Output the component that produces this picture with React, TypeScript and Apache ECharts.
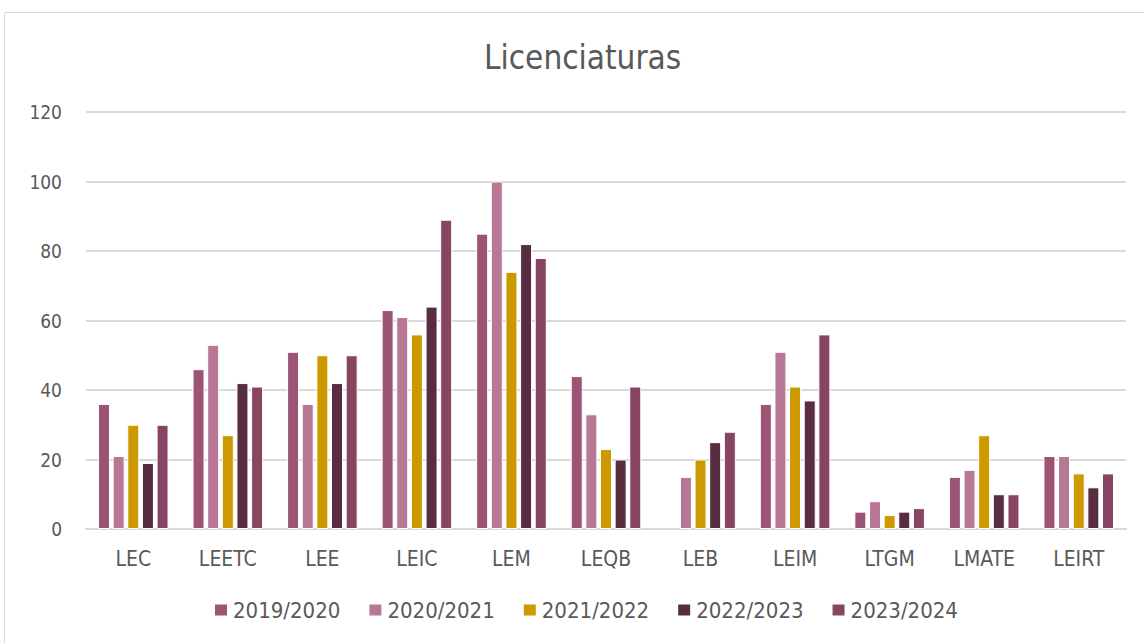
import React, { useEffect, useRef } from "react";
import * as echarts from "echarts";

const categories = ["LEC", "LEETC", "LEE", "LEIC", "LEM", "LEQB", "LEB", "LEIM", "LTGM", "LMATE", "LEIRT"];
const seriesNames = ["2019/2020", "2020/2021", "2021/2022", "2022/2023", "2023/2024"];
const s2019 = [36, 46, 51, 63, 85, 44, null, 36, 5, 15, 21];
const s2020 = [21, 53, 36, 61, 100, 33, 15, 51, 8, 17, 21];
const s2021 = [30, 27, 50, 56, 74, 23, 20, 41, 4, 27, 16];
const s2022 = [19, 42, 42, 64, 82, 20, 25, 37, 5, 10, 12];
const s2023 = [30, 41, 50, 89, 78, 41, 28, 56, 6, 10, 16];
const seriesData = [s2019, s2020, s2021, s2022, s2023];
const colors = ["#9C5374", "#B77795", "#CC9900", "#582D42", "#874562"];

const FONT = "'Liberation Sans Narrow', 'DejaVu Sans Condensed', 'Liberation Sans', sans-serif";

export default function App() {
  const ref = useRef<HTMLDivElement>(null);
  useEffect(() => {
    if (!ref.current) return;
    const chart = echarts.init(ref.current, undefined, { renderer: "svg" });
    chart.setOption({
      animation: false,
      backgroundColor: "#ffffff",
      textStyle: { fontFamily: FONT },
      title: {
        text: "Licenciaturas",
        left: 479,
        top: 36,
        textStyle: { fontFamily: FONT, fontSize: 33, fontWeight: "normal", color: "#595959" },
      },
      graphic: [
        {
          type: "rect",
          shape: { x: 4.5, y: 12.5, width: 1200, height: 700 },
          style: { fill: "none", stroke: "#d9d9d9", lineWidth: 1 },
          silent: true,
        },
      ],
      legend: {
        bottom: 17,
        left: 208,
        itemWidth: 14,
        itemHeight: 13,
        itemGap: 27,
        icon: "rect",
        textStyle: { fontFamily: FONT, fontSize: 22, color: "#595959" },
        data: seriesNames,
      },
      grid: { left: 86, right: 18, top: 112, bottom: 114, containLabel: false },
      xAxis: {
        type: "category",
        data: categories,
        axisLine: { lineStyle: { color: "#d9d9d9", width: 2 } },
        axisTick: { show: false },
        axisLabel: { fontFamily: FONT, fontSize: 21, color: "#595959", margin: 19 },
      },
      yAxis: {
        type: "value",
        min: 0,
        max: 120,
        interval: 20,
        axisLine: { show: false },
        axisTick: { show: false },
        splitLine: { lineStyle: { color: "#d9d9d9", width: 2 } },
        axisLabel: { fontFamily: FONT, fontSize: 19, color: "#595959", margin: 24 },
      },
      series: seriesNames.map((name, i) => ({
        name,
        type: "bar",
        data: seriesData[i],
        barWidth: 12,
        barGap: "22%",
        itemStyle: { color: colors[i], borderColor: "#ffffff", borderWidth: 1 },
      })),
    });
    return () => chart.dispose();
  }, []);
  return (
    <div
      ref={ref}
      style={{ position: "fixed", left: 0, top: 0, width: 1144, height: 643 }}
    />
  );
}
